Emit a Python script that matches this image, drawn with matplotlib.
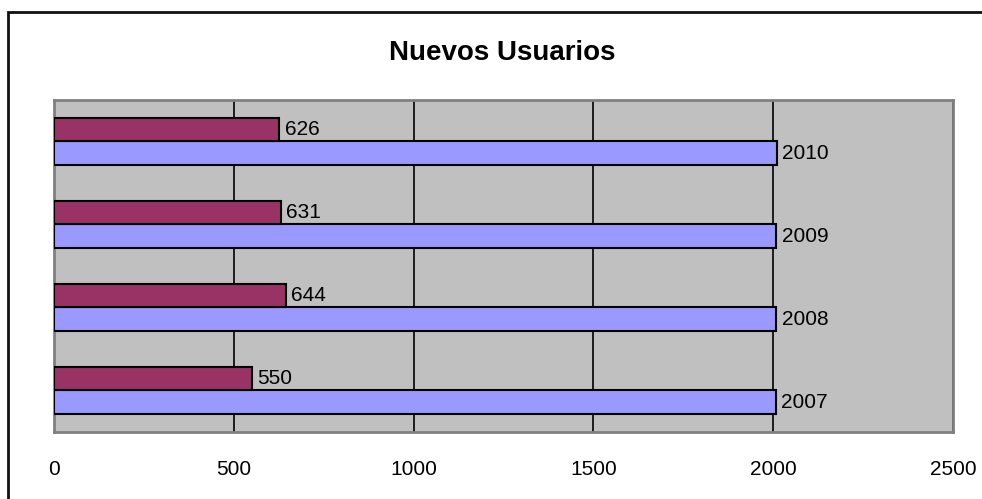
import matplotlib.pyplot as plt
from matplotlib.patches import Rectangle
import numpy as np

plt.rcParams['font.family'] = ['Liberation Sans', 'DejaVu Sans']

# data
anios = ['2007', '2008', '2009', '2010']
valores_anio = [2007, 2008, 2009, 2010]   # barras azules
nuevos = [550, 644, 631, 626]             # barras granate

fig = plt.figure(figsize=(9.82, 4.99), dpi=100)
ax = fig.add_axes([0.055, 0.1343, 0.9155, 0.6653])

# marco exterior del grafico
fig.patches.append(Rectangle((8 / 982, -0.1), 1.2, 1 - 12 / 499 + 0.1,
                             transform=fig.transFigure, fill=False,
                             edgecolor='#111111', linewidth=2))

y = np.arange(len(anios))
alto = 0.283
b1 = ax.barh(y - alto / 2, valores_anio, height=alto, color='#9999FF',
             edgecolor='black', linewidth=1.5, zorder=3)
b2 = ax.barh(y + alto / 2, nuevos, height=alto, color='#993366',
             edgecolor='black', linewidth=1.5, zorder=3)

for bar, v in zip(b1, valores_anio):
    ax.annotate(str(v), (bar.get_width(), bar.get_y() + bar.get_height() / 2),
                xytext=(4, 0), textcoords='offset points', va='center',
                ha='left', fontsize=15)
for bar, v in zip(b2, nuevos):
    ax.annotate(str(v), (bar.get_width(), bar.get_y() + bar.get_height() / 2),
                xytext=(4, 0), textcoords='offset points', va='center',
                ha='left', fontsize=15)

ax.set_xlim(0, 2500)
ax.set_ylim(-0.5, 3.5)
ax.set_xticks([0, 500, 1000, 1500, 2000, 2500])
ax.set_yticks([])
ax.tick_params(axis='x', length=0, pad=20, labelsize=15)
ax.set_facecolor('#C0C0C0')
ax.grid(axis='x', color='black', linewidth=1.2, zorder=1)
ax.set_axisbelow(True)
for s in ax.spines.values():
    s.set_color('#808080')
    s.set_linewidth(2)

fig.text(0.511, 1 - 53 / 499, 'Nuevos Usuarios', ha='center', va='center',
         fontsize=20, fontweight='bold')

fig.savefig('out.png', dpi=100)
